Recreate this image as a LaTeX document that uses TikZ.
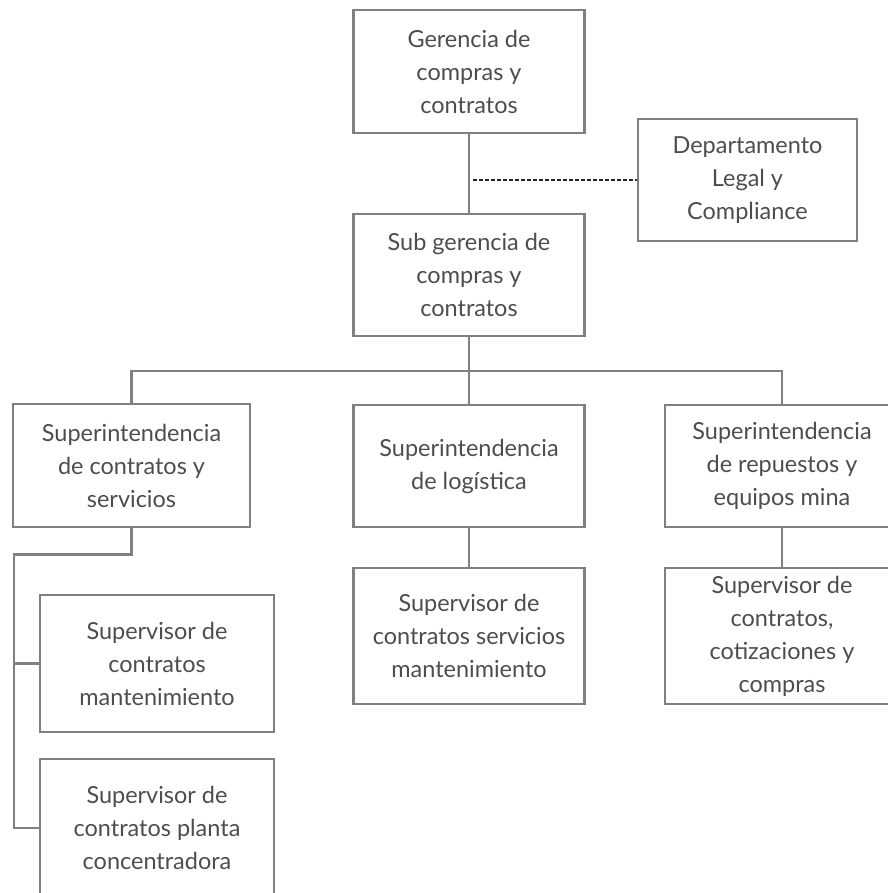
\documentclass[tikz,border=0pt]{standalone}
\usepackage{fontspec}
\setmainfont{Lato}
\definecolor{boxgray}{HTML}{808080}
\definecolor{textgray}{HTML}{4D4D4D}
\tikzset{
	box/.style={draw=boxgray, line width=1.9pt, text=textgray, align=center,
		inner sep=0pt, font=\fontsize{17.6}{24.75}\selectfont},
	boxsize/.style 2 args={minimum width=#1*0.75pt, minimum height=#2*0.75pt},
	link/.style={draw=boxgray, line width=1.9pt},
	dashlink/.style={draw=black!85, line width=1.3pt, dash pattern=on 3pt off 1.5pt}
}

\begin{document}
\begin{tikzpicture}[x=0.75pt, y=-0.75pt]
	
	% 1. Page frame (boxes on the right and bottom are cut by it)
	\useasboundingbox (0,0) rectangle (888,893);
	\clip (0,0) rectangle (888,893);
	
	% 2. Top levels
	\node[box, boxsize={231}{123}] (gerencia) at (469,71.5)
	{Gerencia de\\compras y\\contratos};
	\node[box, boxsize={219}{122}] (legal) at (747.5,180)
	{Departamento\\Legal y\\Compliance};
	\node[box, boxsize={231}{122}] (subgerencia) at (469,275)
	{Sub gerencia de\\compras y\\contratos};
	
	% 3. Superintendencias
	\node[box, boxsize={237}{123}] (supContratos) at (131.5,465.5)
	{Superintendencia\\de contratos y\\servicios};
	\node[box, boxsize={231}{122}] (supLogistica) at (469,466)
	{Superintendencia\\de logística};
	\node[box, boxsize={234}{122}] (supRepuestos) at (782,466)
	{Superintendencia\\de repuestos y\\equipos mina};
	
	% 4. Supervisores
	\node[box, boxsize={234}{137}] (svMantencion) at (157,663.5)
	{Supervisor de\\contratos\\mantenimiento};
	\node[box, boxsize={234}{138}] (svPlanta) at (157,828)
	{Supervisor de\\contratos planta\\concentradora};
	\node[box, boxsize={231}{136}] (svServicios) at (469,636)
	{Supervisor de\\contratos servicios\\mantenimiento};
	\node[box, boxsize={234}{136}] (svCompras) at (782,636)
	{Supervisor de\\contratos,\\cotizaciones y\\compras};
	
	% 5. Connectors
	\coordinate (bus) at (469,371);
	\coordinate (staff) at (473,180);
	\coordinate (elbow) at (14,554.5);
	
	\draw[link] (gerencia) -- (subgerencia);
	\draw[dashlink] (staff) -- (legal.west);
	\draw[link] (subgerencia) -- (bus);
	\draw[link] (supContratos.north) |- (bus) -| (supRepuestos.north);
	\draw[link] (bus) -- (supLogistica);
	\draw[link] (supLogistica) -- (svServicios);
	\draw[link] (supRepuestos) -- (svCompras);
	
	% left branch runs down the page edge
	\draw[link] (supContratos.south) |- (elbow) -- (elbow |- svPlanta.west) -- (svPlanta.west);
	\draw[link] (elbow |- svMantencion.west) -- (svMantencion.west);
	
\end{tikzpicture}
\end{document}
